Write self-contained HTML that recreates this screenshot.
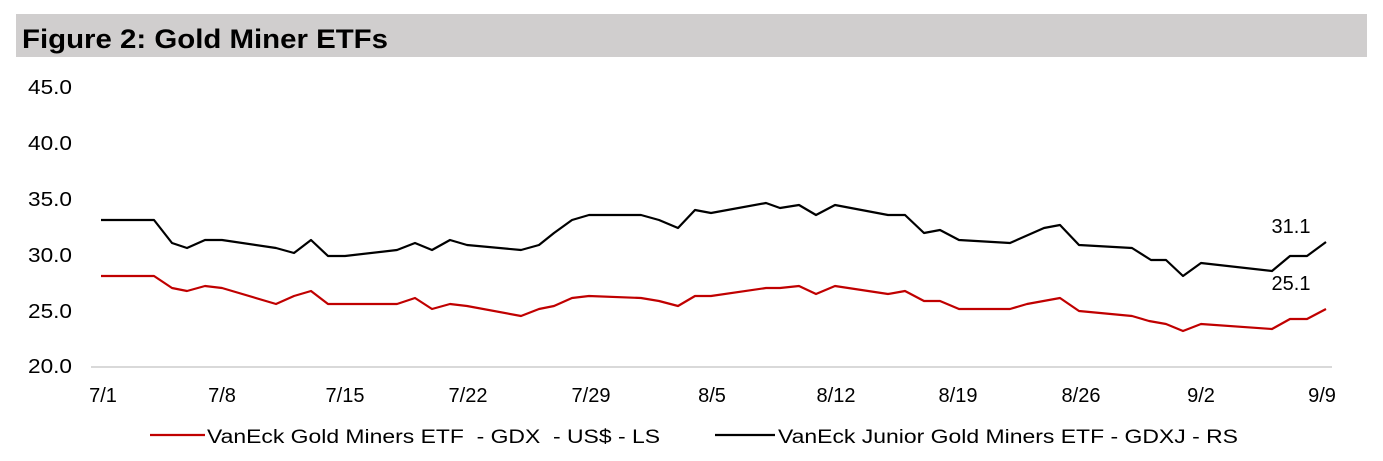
<!DOCTYPE html>
<html><head><meta charset="utf-8"><style>
body{margin:0;background:#fff;width:1383px;height:456px;overflow:hidden;font-family:"Liberation Sans",Arial,sans-serif}
</style></head><body>
<svg width="1383" height="456" xmlns="http://www.w3.org/2000/svg" font-family="Liberation Sans, Arial, sans-serif">
<rect x="16" y="14" width="1351" height="43" fill="#d0cece"/>
<text x="22" y="48" font-size="27" font-weight="bold" fill="#000" textLength="366" lengthAdjust="spacingAndGlyphs">Figure 2: Gold Miner ETFs</text>
<g font-size="20" fill="#000">
<text x="28" y="94" textLength="44" lengthAdjust="spacingAndGlyphs">45.0</text>
<text x="28" y="150" textLength="44" lengthAdjust="spacingAndGlyphs">40.0</text>
<text x="28" y="206" textLength="44" lengthAdjust="spacingAndGlyphs">35.0</text>
<text x="28" y="262" textLength="44" lengthAdjust="spacingAndGlyphs">30.0</text>
<text x="28" y="318" textLength="44" lengthAdjust="spacingAndGlyphs">25.0</text>
<text x="28" y="373" textLength="44" lengthAdjust="spacingAndGlyphs">20.0</text>
</g>
<line x1="91" y1="367" x2="1332" y2="367" stroke="#d9d9d9" stroke-width="2"/>
<g font-size="20" fill="#000" text-anchor="middle">
<text x="103" y="402">7/1</text><text x="222" y="402">7/8</text><text x="345" y="402">7/15</text>
<text x="468" y="402">7/22</text><text x="591" y="402">7/29</text><text x="712" y="402">8/5</text>
<text x="836" y="402">8/12</text><text x="958" y="402">8/19</text><text x="1081" y="402">8/26</text>
<text x="1201" y="402">9/2</text><text x="1322" y="402">9/9</text>
</g>
<polyline fill="none" stroke="#000" stroke-width="2.2" stroke-linejoin="round" points="101,220 154,220 172,243 187,248 205,240 222,240 276,248 294,253 311,240 328,256 345,256 397,250 415,243 432,250 450,240 467,245 521,250 539,245 554,233 572,220 589,215 641,215 659,220 678,228 695,210 711,213 766,203 780,208 799,205 816,215 835,205 888,215 905,215 924,233 940,230 959,240 1010,243 1044,228 1060,225 1079,245 1132,248 1151,260 1166,260 1183,276 1201,263 1272,271 1290,256 1307,256 1326,242"/>
<polyline fill="none" stroke="#c00000" stroke-width="2.2" stroke-linejoin="round" points="101,276 154,276 172,288 187,291 205,286 222,288 276,304 294,296 311,291 328,304 397,304 415,298 432,309 450,304 467,306 521,316 539,309 554,306 572,298 589,296 641,298 659,301 678,306 695,296 711,296 766,288 780,288 799,286 816,294 835,286 888,294 905,291 924,301 940,301 959,309 1010,309 1027,304 1060,298 1079,311 1132,316 1149,321 1166,324 1183,331 1201,324 1272,329 1290,319 1307,319 1326,309"/>
<g font-size="20" fill="#000" text-anchor="middle">
<text x="1291" y="233">31.1</text>
<text x="1291" y="290">25.1</text>
</g>
<line x1="150" y1="435" x2="205" y2="435" stroke="#c00000" stroke-width="2.2"/>
<text x="207" y="443" font-size="19" fill="#000" xml:space="preserve" textLength="453" lengthAdjust="spacingAndGlyphs">VanEck Gold Miners ETF  - GDX  - US$ - LS</text>
<line x1="715" y1="435" x2="775" y2="435" stroke="#000" stroke-width="2.2"/>
<text x="778" y="443" font-size="19" fill="#000" textLength="460" lengthAdjust="spacingAndGlyphs">VanEck Junior Gold Miners ETF - GDXJ - RS</text>
</svg>
</body></html>
